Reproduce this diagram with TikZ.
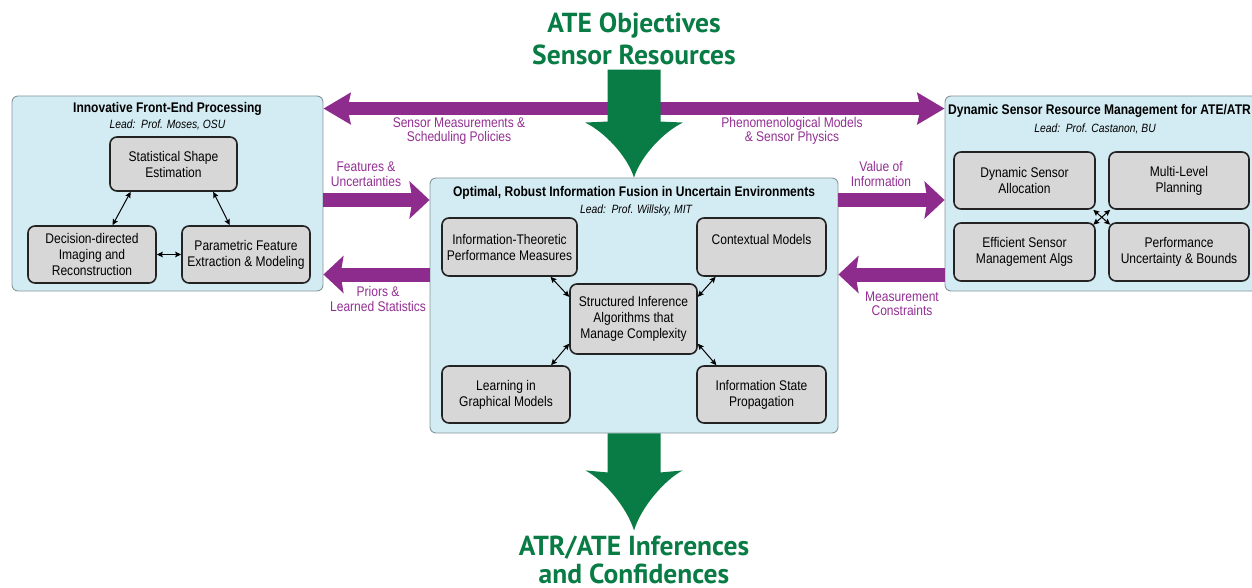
\documentclass[tikz,border=0pt]{standalone}
\usepackage{fontspec}
\setmainfont{Liberation Sans}[FakeStretch=0.86]
\newfontfamily\headfont{PT Sans}
\usetikzlibrary{arrows.meta,calc}

\definecolor{panelfill}{RGB}{211,235,242}
\definecolor{paneledge}{RGB}{135,150,156}
\definecolor{unitfill}{RGB}{215,215,215}
\definecolor{unitedge}{RGB}{35,35,35}
\definecolor{flowpurple}{RGB}{142,44,142}
\definecolor{labelpurple}{RGB}{146,46,146}
\definecolor{teamgreen}{RGB}{8,124,68}

\tikzset{
  tophead/.tip={Stealth[length=27pt,width=31pt,inset=3pt]},
  sidehead/.tip={Stealth[length=20pt,width=37pt,inset=3pt]},
  linkhead/.tip={Stealth[length=6pt,width=5.5pt,inset=1pt]}
}

\begin{document}
\begin{tikzpicture}[x=1pt,y=-1pt,
  panel/.style={draw=paneledge, fill=panelfill, rounded corners=6pt, line width=0.9pt, inner sep=0pt},
  unit/.style={draw=unitedge, fill=unitfill, rounded corners=7pt, line width=1.6pt,
    align=center, inner sep=2pt, font=\fontsize{14}{16}\selectfont},
  ptitle/.style={font=\fontsize{14}{16}\selectfont\bfseries, inner sep=0pt},
  plead/.style={font=\fontsize{12}{14}\selectfont\itshape, inner sep=0pt},
  flowlabel/.style={text=labelpurple, align=center, inner sep=0pt, font=\fontsize{14}{14.5}\selectfont},
  link/.style={linkhead-linkhead, line width=1pt},
  wideflow/.style={draw=flowpurple, line width=12.5pt},
  sideflow/.style={draw=flowpurple, line width=14pt},
  headline/.style={text=teamgreen, font=\headfont\fontsize{27.5}{30}\selectfont\bfseries, inner sep=0pt, anchor=base}
]
\useasboundingbox (0,0) rectangle (1252,588);

% ---- panels ----
\node[panel, minimum width=311pt, minimum height=195pt] (lb) at (167.5,193.5) {};
\node[panel, minimum width=408pt, minimum height=255pt] (cb) at (634,305.5) {};
\node[panel, minimum width=320pt, minimum height=195pt] (rb) at (1105,193.5) {};

% ---- front-end processing ----
\node[ptitle] (lbtitle) at (167.5,108.5) {Innovative Front-End Processing};
\node[plead] (lblead) at (167.5,125) {Lead:\ \ Prof. Moses, OSU};
\node[unit, minimum width=127pt, minimum height=54pt] (sse) at (173.5,164) {Statistical Shape\\Estimation};
\node[unit, minimum width=128pt, minimum height=57pt] (dd) at (92,254.5) {Decision-directed\\Imaging and\\Reconstruction};
\node[unit, minimum width=128pt, minimum height=57pt] (pf) at (246,254.5) {Parametric Feature\\Extraction \& Modeling};
\draw[link] (sse.213) -- (dd.55);
\draw[link] (sse.325) -- (pf.119);
\draw[link] (dd.east) -- (pf.west);

% ---- information fusion ----
\node[ptitle] (cbtitle) at (634,192.5) {Optimal, Robust Information Fusion in Uncertain Environments};
\node[plead] (cblead) at (636,210) {Lead:\ \ Prof. Willsky, MIT};
\node[unit, minimum width=135pt, minimum height=58pt] (it) at (509.5,247) {Information-Theoretic\\Performance Measures};
\node[unit, minimum width=129pt, minimum height=58pt] (cm) at (761.5,247) {Contextual Models\\\mbox{}};
\node[unit, minimum width=127pt, minimum height=70pt] (si) at (633.5,319) {Structured Inference\\Algorithms that\\Manage Complexity};
\node[unit, minimum width=128pt, minimum height=57pt] (lg) at (506,394.5) {Learning in\\Graphical Models};
\node[unit, minimum width=129pt, minimum height=57pt] (isp) at (761.5,394.5) {Information State\\Propagation};
\draw[link] (it.324) -- (si.161);
\draw[link] (cm.213) -- (si.19);
\draw[link] (si.201) -- (lg.33);
\draw[link] (si.339) -- (isp.147);

% ---- sensor resource management ----
\node[ptitle, anchor=west] (rbtitle) at (948,110.5) {Dynamic Sensor Resource Management for ATE/ATR};
\node[plead] (rblead) at (1095,128.5) {Lead:\ \ Prof. Castanon, BU};
\node[unit, minimum width=141pt, minimum height=57pt] (dsa) at (1024.5,180.5) {Dynamic Sensor\\Allocation};
\node[unit, minimum width=140pt, minimum height=57pt] (mlp) at (1179,180.5) {Multi-Level\\Planning};
\node[unit, minimum width=141pt, minimum height=58pt] (esm) at (1024.5,252) {Efficient Sensor\\Management Algs};
\node[unit, minimum width=140pt, minimum height=58pt] (pub) at (1179,252) {Performance\\Uncertainty \& Bounds};
\draw[link] ([shift={(-2.5pt,0pt)}]dsa.south east) -- ([shift={(2pt,-2.5pt)}]pub.north west);
\draw[link] ([shift={(2pt,0pt)}]mlp.south west) -- ([shift={(-2.5pt,-2.5pt)}]esm.north east);

% ---- purple information flows ----
\coordinate (toprow) at ([yshift=-13pt]lb.north east);
\coordinate (featrow) at ([yshift=-6.5pt]lb.east);
\coordinate (priorrow) at ([yshift=-81pt]lb.east);
\draw[wideflow, tophead-tophead] (toprow) -- (toprow -| rb.west);
\draw[sideflow, -sidehead] (featrow) -- (featrow -| cb.west);
\draw[sideflow, -sidehead] (priorrow -| cb.west) -- (priorrow);
\draw[sideflow, -sidehead] (featrow -| cb.east) -- (featrow -| rb.west);
\draw[sideflow, -sidehead] (priorrow -| rb.west) -- (priorrow -| cb.east);

\node[flowlabel] (smlabel) at (459,131) {Sensor Measurements \&\\Scheduling Policies};
\node[flowlabel] (pmlabel) at (792,131) {Phenomenological Models\\\& Sensor Physics};
\node[flowlabel] (fulabel) at (366,174) {Features \&\\Uncertainties};
\node[flowlabel] (prlabel) at (378,299) {Priors \&\\Learned Statistics};
\node[flowlabel] (vilabel) at (881,174) {Value of\\Information};
\node[flowlabel] (mclabel) at (902,304) {Measurement\\Constraints};

% ---- green objective / output arrows ----
\begin{scope}[shift={(cb.north)}]
  \fill[teamgreen] (-26.5,-108) -- (26.5,-108) -- (26.5,-56) -- (49,-55)
    .. controls (30,-46) and (7,-22) .. (0,0)
    .. controls (-7,-22) and (-30,-46) .. (-49,-55) -- (-26.5,-56) -- cycle;
\end{scope}
\begin{scope}[shift={(cb.south)}]
  \fill[teamgreen] (-26.5,0) -- (26.5,0) -- (26.5,39) -- (48.5,37)
    .. controls (30,47) and (7,74) .. (0,97)
    .. controls (-7,74) and (-30,47) .. (-48.5,37) -- (-26.5,39) -- cycle;
\end{scope}

\node[headline] (objectives) at (634,33) {ATE Objectives};
\node[headline] (resources) at (634,65) {Sensor Resources};
\node[headline] (inferences) at (634,555) {ATR/ATE Inferences};
\node[headline] (confidences) at (634,583) {and Confidences};
\end{tikzpicture}
\end{document}
